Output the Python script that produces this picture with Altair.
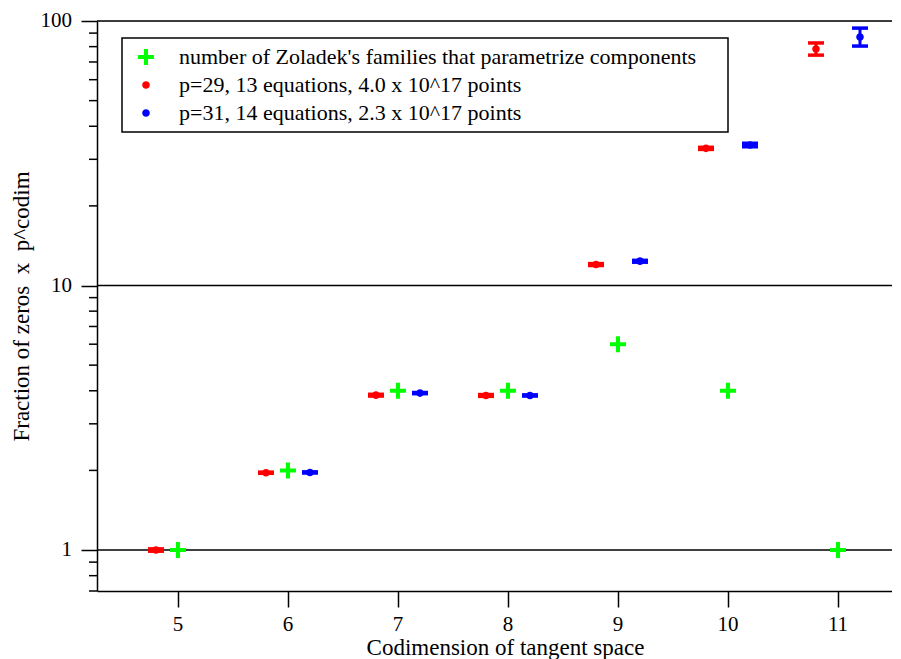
import altair as alt
import pandas as pd

# ---- data ----
codim = [5, 6, 7, 8, 9, 10, 11]
zoladek = [1, 2, 4, 4, 6, 4, 1]

p29_codim = [5, 6, 7, 8, 9, 10, 11]
p29_val = [1.00, 1.96, 3.85, 3.84, 12.0, 33.0, 78.3]
p29_lo = [0.99, 1.95, 3.82, 3.81, 11.9, 32.7, 74.3]
p29_hi = [1.01, 1.97, 3.88, 3.87, 12.1, 33.3, 82.6]

p31_codim = [6, 7, 8, 9, 10, 11]
p31_val = [1.965, 3.92, 3.84, 12.36, 33.96, 87.0]
p31_lo = [1.955, 3.90, 3.82, 12.25, 33.46, 80.4]
p31_hi = [1.975, 3.94, 3.86, 12.45, 34.5, 94.0]

series = [
    "number of Zoladek's families that parametrize components",
    "p=29, 13 equations, 4.0 x 10^17 points",
    "p=31, 14 equations, 2.3 x 10^17 points",
]
colors = ["#00ff00", "#ff0000", "#0000ff"]
x_offset = [0.0, -0.2, 0.2]

major_ticks = [1, 10, 100]
minor_ticks = [0.7, 0.8, 0.9, 2, 3, 4, 5, 6, 7, 8, 9, 20, 30, 40, 50, 60, 70, 80, 90]
x_ticks = [5, 6, 7, 8, 9, 10, 11]

x_title = "Codimension of tangent space"
y_title = "Fraction of zeros\u00a0 x\u00a0 p^codim"

FONT = "Liberation Serif"
CROSS = "M-0.42,-0.105H-0.105V-0.42H0.105V-0.105H0.42V0.105H0.105V0.42H-0.105V0.105H-0.42Z"
DOT = "M0.2,0A0.2,0.2,0,1,1,-0.2,0A0.2,0.2,0,1,1,0.2,0Z"
shapes = [CROSS, DOT, DOT]

# ---- tables ----
rows = []
for c, v in zip(codim, zoladek):
    rows.append({"series": series[0], "x": c + x_offset[0], "y": v})
for c, v in zip(p29_codim, p29_val):
    rows.append({"series": series[1], "x": c + x_offset[1], "y": v})
for c, v in zip(p31_codim, p31_val):
    rows.append({"series": series[2], "x": c + x_offset[2], "y": v})
pts = pd.DataFrame(rows)

err29 = pd.DataFrame({"x": [c + x_offset[1] for c in p29_codim], "lo": p29_lo, "hi": p29_hi})
err31 = pd.DataFrame({"x": [c + x_offset[2] for c in p31_codim], "lo": p31_lo, "hi": p31_hi})

xscale = alt.Scale(domain=[4.264, 11.491], nice=False, zero=False)
yscale = alt.Scale(type="log", domain=[0.7, 100], nice=False)

xaxis = alt.Axis(
    values=x_ticks, title=x_title, grid=False, labels=False,
    tickSize=16, tickColor="black", tickWidth=1.5,
    domainColor="black", domainWidth=1.5,
    titleFont=FONT, titleFontSize=23, titleFontWeight="normal", titleColor="black",
    titleBaseline="alphabetic", titleY=63, titleX=408, titleAlign="center",
)
yaxis = alt.Axis(
    values=major_ticks, title=y_title, grid=False, labels=False,
    tickSize=16, tickColor="black", tickWidth=1.5,
    domainColor="black", domainWidth=1.5,
    titleFont=FONT, titleFontSize=23, titleFontWeight="normal", titleColor="black",
    titleAngle=270, titleAlign="center", titleBaseline="alphabetic",
    titleX=-69, titleY=285,
)

grid = alt.Chart(pd.DataFrame({"v": major_ticks})).mark_rule(
    color="black", strokeWidth=1.5
).encode(y=alt.Y("v:Q", scale=yscale, axis=yaxis))

minor = alt.Chart(pd.DataFrame({"v": minor_ticks})).mark_rule(
    color="black", strokeWidth=1.5
).encode(
    y=alt.Y("v:Q", scale=yscale),
    x=alt.value(-8), x2=alt.value(0),
)

# tick labels as text marks placed through the scales
ylabels = alt.Chart(pd.DataFrame({"v": major_ticks})).mark_text(
    font=FONT, fontSize=21, fontWeight="normal", color="black", align="right", baseline="middle"
).encode(
    y=alt.Y("v:Q", scale=yscale), x=alt.value(-25), text=alt.Text("v:Q", format="d")
)
xlabels = alt.Chart(pd.DataFrame({"v": x_ticks})).mark_text(
    font=FONT, fontSize=21, fontWeight="normal", color="black", align="center", baseline="alphabetic"
).encode(
    x=alt.X("v:Q", scale=xscale), y=alt.value(610), text=alt.Text("v:Q", format="d")
)

layers = [grid, minor, ylabels, xlabels]
for df, col in [(err29, colors[1]), (err31, colors[2])]:
    base = alt.Chart(df)
    layers.append(base.mark_rule(color=col, strokeWidth=3).encode(
        x=alt.X("x:Q", scale=xscale, axis=xaxis),
        y=alt.Y("lo:Q", scale=yscale), y2="hi:Q"))
    layers.append(base.mark_tick(color=col, orient="horizontal", size=16, thickness=3.5, opacity=1).encode(
        x=alt.X("x:Q", scale=xscale), y=alt.Y("lo:Q", scale=yscale)))
    layers.append(base.mark_tick(color=col, orient="horizontal", size=16, thickness=3.5, opacity=1).encode(
        x=alt.X("x:Q", scale=xscale), y=alt.Y("hi:Q", scale=yscale)))

points = alt.Chart(pts).mark_point(filled=True, size=1444, opacity=1, strokeWidth=0).encode(
    x=alt.X("x:Q", scale=xscale, axis=xaxis),
    y=alt.Y("y:Q", scale=yscale),
    color=alt.Color("series:N", scale=alt.Scale(domain=series, range=colors), legend=None),
    shape=alt.Shape("series:N", scale=alt.Scale(domain=series, range=shapes), legend=None),
)
layers.append(points)

# ---- legend box (drawn as marks) ----
leg_df = pd.DataFrame({"label": [""]})
layers.append(alt.Chart(leg_df).mark_rect(fill="white", stroke="black", strokeWidth=1.5).encode(
    x=alt.value(25), x2=alt.value(631), y=alt.value(17), y2=alt.value(111)))
for i, (lab, col, shp) in enumerate(zip(series, colors, shapes)):
    row = pd.DataFrame({"label": [lab]})
    yy = 36 + 28 * i
    layers.append(alt.Chart(row).mark_point(
        shape=shp, size=1444, filled=True, color=col, opacity=1, strokeWidth=0
    ).encode(x=alt.value(49), y=alt.value(yy)))
    layers.append(alt.Chart(row).mark_text(
        font=FONT, fontSize=22, fontWeight="normal", color="black", align="left", baseline="middle"
    ).encode(x=alt.value(82), y=alt.value(yy), text="label:N"))

chart = alt.layer(*layers).properties(
    width=795, height=570,
    autosize=alt.AutoSizeParams(type="none"),
    padding={"left": 89, "top": 13, "right": 0, "bottom": 68},
).configure_view(stroke=None).configure(background="white", font=FONT)

chart.save("out.html", embed_options={"renderer": "svg", "actions": False})
